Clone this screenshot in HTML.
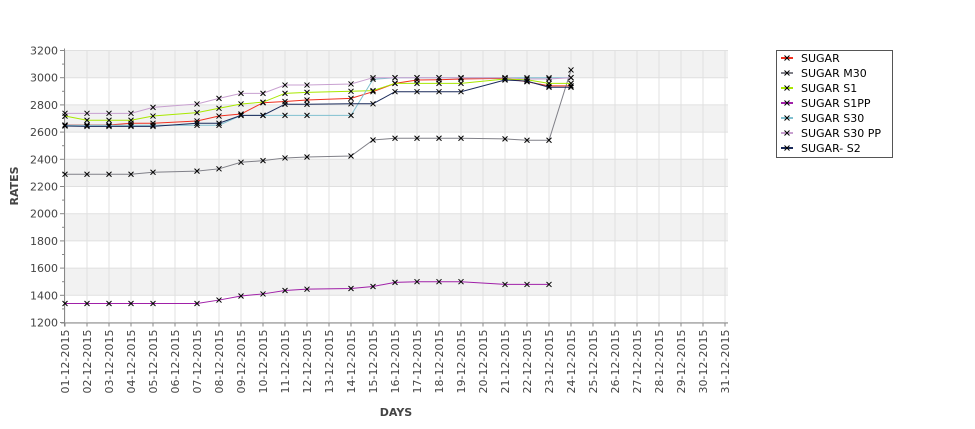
<!DOCTYPE html>
<html><head><meta charset="utf-8"><style>
body{margin:0;background:#fff;}
svg{display:block;font-family:"DejaVu Sans","Liberation Sans",sans-serif;}
</style></head><body>
<svg id="chart" width="975" height="429" viewBox="0 0 975 429"></svg>
<script>
const categories=[];for(let d=1;d<=31;d++)categories.push((d<10?'0':'')+d+'-12-2015');
const yTicks=[1200,1400,1600,1800,2000,2200,2400,2600,2800,3000,3200];
const seriesNames=["SUGAR","SUGAR M30","SUGAR S1","SUGAR S1PP","SUGAR S30","SUGAR S30 PP","SUGAR- S2"];
const seriesColors=["#f03020","#808088","#a8e800","#a020a8","#80c0d0","#c8a0d0","#1a2a5a"];
const days=[1,2,3,4,5,7,8,9,10,11,12,14,15,16,17,18,19,21,22,23,24];
const sugar=[2652,2652,2652,2665,2665,2682,2718,2733,2816,2825,2836,2848,2897,2958,2983,2985,2990,2995,2970,2940,2940];
const sugarM30=[2290,2290,2290,2290,2305,2313,2330,2378,2390,2410,2417,2424,2542,2555,2555,2555,2555,2550,2540,2540,3057];
const sugarS1=[2718,2687,2687,2687,2718,2743,2775,2807,2820,2885,2892,2900,2905,2958,2958,2958,2958,2990,2985,2958,2958];
const sugarS1PP=[1340,1340,1340,1340,1340,1340,1365,1395,1410,1435,1445,1450,1465,1495,1500,1500,1500,1480,1480,1480,null];
const sugarS30=[2650,2650,2650,2650,2650,2650,2650,2723,2723,2723,2723,2723,2988,3000,3000,3000,3000,3000,3000,3000,3000];
const sugarS30PP=[2738,2738,2738,2738,2782,2807,2848,2885,2885,2946,2946,2954,3000,3000,3000,3000,3000,3000,2990,2990,3000];
const sugarS2=[2645,2642,2642,2642,2642,2665,2665,2723,2723,2805,2805,2808,2808,2897,2897,2897,2897,2983,2975,2930,2930];
const seriesValues=[sugar,sugarM30,sugarS1,sugarS1PP,sugarS30,sugarS30PP,sugarS2];

const NS="http://www.w3.org/2000/svg";
const svg=document.getElementById('chart');
const X0=65,DX=22,Y0=322.5,YT=50.5,YMIN=1200,YMAX=3200,XR=728;
const xs=d=>X0+(d-1)*DX;
const ys=v=>Y0-(v-YMIN)/(YMAX-YMIN)*(Y0-YT);
function mk(tag,attrs,parent){const e=document.createElementNS(NS,tag);for(const k in attrs)e.setAttribute(k,attrs[k]);(parent||svg).appendChild(e);return e;}

const plot=mk('g',{});


for(let i=0;i<yTicks.length-1;i++){
  const v0=yTicks[i],v1=yTicks[i+1];
  const gray=(i%2===1);
  const r=mk('rect',{x:X0,y:ys(v1),width:XR-X0,height:ys(v0)-ys(v1),fill:gray?'#f2f2f2':'#ffffff'},plot);
  
  
}
categories.forEach((c,i)=>{const l=mk('line',{x1:xs(i+1),x2:xs(i+1),y1:YT,y2:Y0,stroke:'#e0e0e0','stroke-width':1},plot);
  
  });
yTicks.forEach(v=>{const l=mk('line',{x1:X0,x2:XR,y1:ys(v),y2:ys(v),stroke:'#e0e0e0','stroke-width':1},plot);
  
  });
const ax=mk('line',{x1:X0-0.5,x2:X0-0.5,y1:YT-2,y2:Y0+4,stroke:'#888','stroke-width':1});


const bx=mk('line',{x1:X0-4,x2:XR,y1:Y0+0.5,y2:Y0+0.5,stroke:'#888','stroke-width':1});


yTicks.forEach(v=>{
  const t=mk('line',{x1:X0-5,x2:X0-0.5,y1:ys(v),y2:ys(v),stroke:'#888'});
  
  
  const tx=mk('text',{x:X0-7,y:ys(v)+4,'text-anchor':'end','font-size':11,fill:'#444'});
  tx.textContent=v;
  
  
});
yTicks.slice(0,-1).forEach((v,i)=>{const m=ys(v+100);const t=mk('line',{x1:X0-3,x2:X0-0.5,y1:m,y2:m,stroke:'#888'});
  
  });
categories.forEach((c,i)=>{
  const x=xs(i+1);
  const t=mk('line',{x1:x,x2:x,y1:Y0,y2:Y0+4,stroke:'#888'});
  
  
  const tx=mk('text',{x:0,y:0,'text-anchor':'end','font-size':11,fill:'#444',transform:`translate(${x+4},${Y0+7}) rotate(-90)`});
  tx.textContent=c;
  
  
});
const yt=mk('text',{x:0,y:0,'text-anchor':'middle','font-size':11,'font-weight':'bold',fill:'#444',transform:'translate(18,186) rotate(-90)'});
yt.textContent='RATES';


const xt=mk('text',{x:396,y:416,'text-anchor':'middle','font-size':11,'font-weight':'bold',fill:'#444'});
xt.textContent='DAYS';



function cross(g,x,y){mk('path',{d:`M${x-2.5},${y-2.5}L${x+2.5},${y+2.5}M${x+2.5},${y-2.5}L${x-2.5},${y+2.5}`,stroke:'#000','stroke-width':1},g);}
seriesValues.forEach((vals,si)=>{
  const g=mk('g',{});
  
  
  let d='';
  vals.forEach((v,i)=>{if(v==null)return;d+=(d?'L':'M')+xs(days[i])+','+ys(v);});
  const p=mk('path',{d:d,fill:'none',stroke:seriesColors[si],'stroke-width':1},g);
  
  
  vals.forEach((v,i)=>{if(v==null)return;cross(g,xs(days[i]),ys(v));});
});

const lg=mk('g',{});


mk('rect',{x:776.5,y:50.5,width:116,height:107,fill:'#fff',stroke:'#555'},lg);
seriesNames.forEach((n,i)=>{
  const y=58+i*15;
  const e=mk('g',{},lg);
  
  
  mk('line',{x1:781,x2:793,y1:y,y2:y,stroke:seriesColors[i],'stroke-width':2},e);
  cross(e,787,y);
  const t=mk('text',{x:801,y:y+4,'font-size':11,fill:'#000'},e);
  t.textContent=n;
});
</script>
</body></html>
